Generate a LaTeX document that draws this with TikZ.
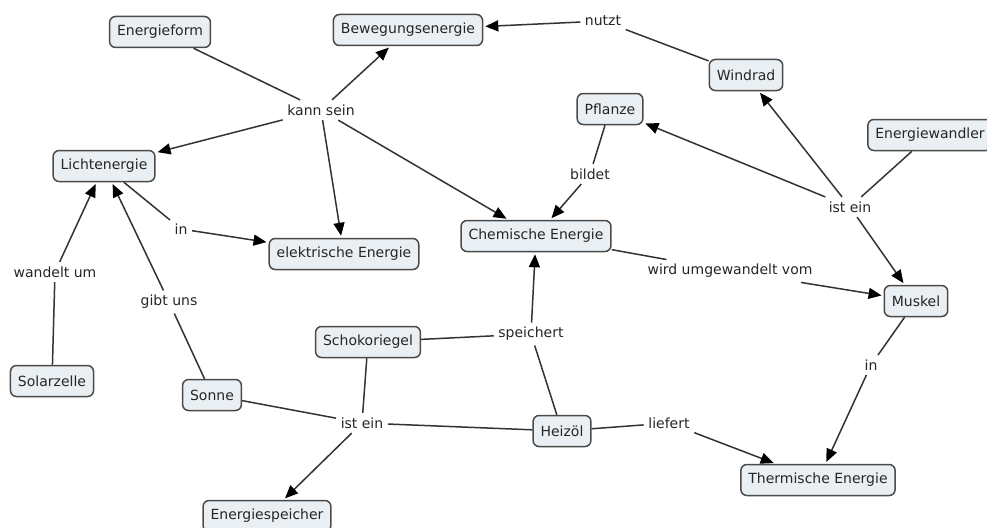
\documentclass[tikz,border=0pt]{standalone}
\usepackage{fontspec}
\setmainfont{DejaVu Sans}
\usetikzlibrary{arrows.meta}
\definecolor{boxfill}{HTML}{E9EFF3}
\definecolor{boxline}{HTML}{4A4A4A}
\definecolor{txt}{HTML}{262626}
\definecolor{conn}{HTML}{333333}
\tikzset{
  concept/.style={draw=boxline, fill=boxfill, line width=1.5pt, rounded corners=6pt,
    inner xsep=7.5pt, minimum height=31pt, text=txt, font=\fontsize{14}{16}\selectfont},
  linklabel/.style={inner sep=4.5pt, text=txt, font=\fontsize{14}{16}\selectfont},
  conline/.style={draw=conn, line width=1.5pt},
  conarrow/.style={conline, -{Triangle[length=13pt,width=11pt,fill=black,color=black]}, shorten >=2pt}
}
\begin{document}
\begin{tikzpicture}[x=1pt,y=-1pt]
\clip (0,0) rectangle (987,527);
\fill[white] (0,0) rectangle (987,527);
% concepts
\node[concept] (energieform) at (160,32) {Energieform};
\node[concept] (beweg) at (408,30) {Bewegungsenergie};
\node[concept] (windrad) at (746,75) {Windrad};
\node[concept] (pflanze) at (610,109) {Pflanze};
\node[concept] (wandler) at (930,135) {Energiewandler};
\node[concept] (licht) at (104,166) {Lichtenergie};
\node[concept] (chem) at (536,236) {Chemische Energie};
\node[concept] (elek) at (344,254) {elektrische Energie};
\node[concept] (muskel) at (916,301) {Muskel};
\node[concept] (schoko) at (368,342) {Schokoriegel};
\node[concept] (solar) at (52,381) {Solarzelle};
\node[concept] (sonne) at (212,395) {Sonne};
\node[concept] (heizoel) at (562,431) {Heizöl};
\node[concept] (thermisch) at (818,480) {Thermische Energie};
\node[concept] (speicher) at (267,516) {Energiespeicher};
% linking phrases
\node[linklabel] (kann) at (321,110) {kann sein};
\node[linklabel] (nutzt) at (603,21) {nutzt};
\node[linklabel] (bildet) at (590,174) {bildet};
\node[linklabel] (isteinR) at (850,207) {ist ein};
\node[linklabel] (inL) at (181,229) {in};
\node[linklabel] (wandelt) at (55,272) {wandelt um};
\node[linklabel] (wird) at (730,271) {wird umgewandelt vom};
\node[linklabel] (gibt) at (169,302) {gibt uns};
\node[linklabel] (speichert) at (531,334) {speichert};
\node[linklabel] (inR) at (871,365) {in};
\node[linklabel] (isteinL) at (362,423) {ist ein};
\node[linklabel] (liefert) at (669,423) {liefert};
% connectors
\draw[conline] (energieform) -- (kann);
\draw[conarrow] (kann) -- (beweg);
\draw[conarrow] (kann) -- (licht);
\draw[conarrow] (kann) -- (elek);
\draw[conarrow] (kann) -- (chem);
\draw[conline] (windrad) -- (nutzt);
\draw[conarrow] (nutzt) -- (beweg);
\draw[conline] (pflanze) -- (bildet);
\draw[conarrow] (bildet) -- (chem);
\draw[conline] (wandler) -- (isteinR);
\draw[conarrow] (isteinR) -- (pflanze);
\draw[conarrow] (isteinR) -- (windrad);
\draw[conarrow] (isteinR) -- (muskel);
\draw[conline] (licht) -- (inL);
\draw[conarrow] (inL) -- (elek);
\draw[conline] (solar) -- (wandelt);
\draw[conarrow] (wandelt) -- (licht);
\draw[conline] (sonne) -- (gibt);
\draw[conarrow] (gibt) -- (licht);
\draw[conline] (chem) -- (wird);
\draw[conarrow] (wird) -- (muskel);
\draw[conline] (muskel) -- (inR);
\draw[conarrow] (inR) -- (thermisch);
\draw[conline] (schoko) -- (speichert);
\draw[conline] (heizoel) -- (speichert);
\draw[conarrow] (speichert) -- (chem);
\draw[conline] (schoko) -- (isteinL);
\draw[conline] (sonne) -- (isteinL);
\draw[conline] (heizoel) -- (isteinL);
\draw[conarrow] (isteinL) -- (speicher);
\draw[conline] (heizoel) -- (liefert);
\draw[conarrow] (liefert) -- (thermisch);
\end{tikzpicture}
\end{document}
